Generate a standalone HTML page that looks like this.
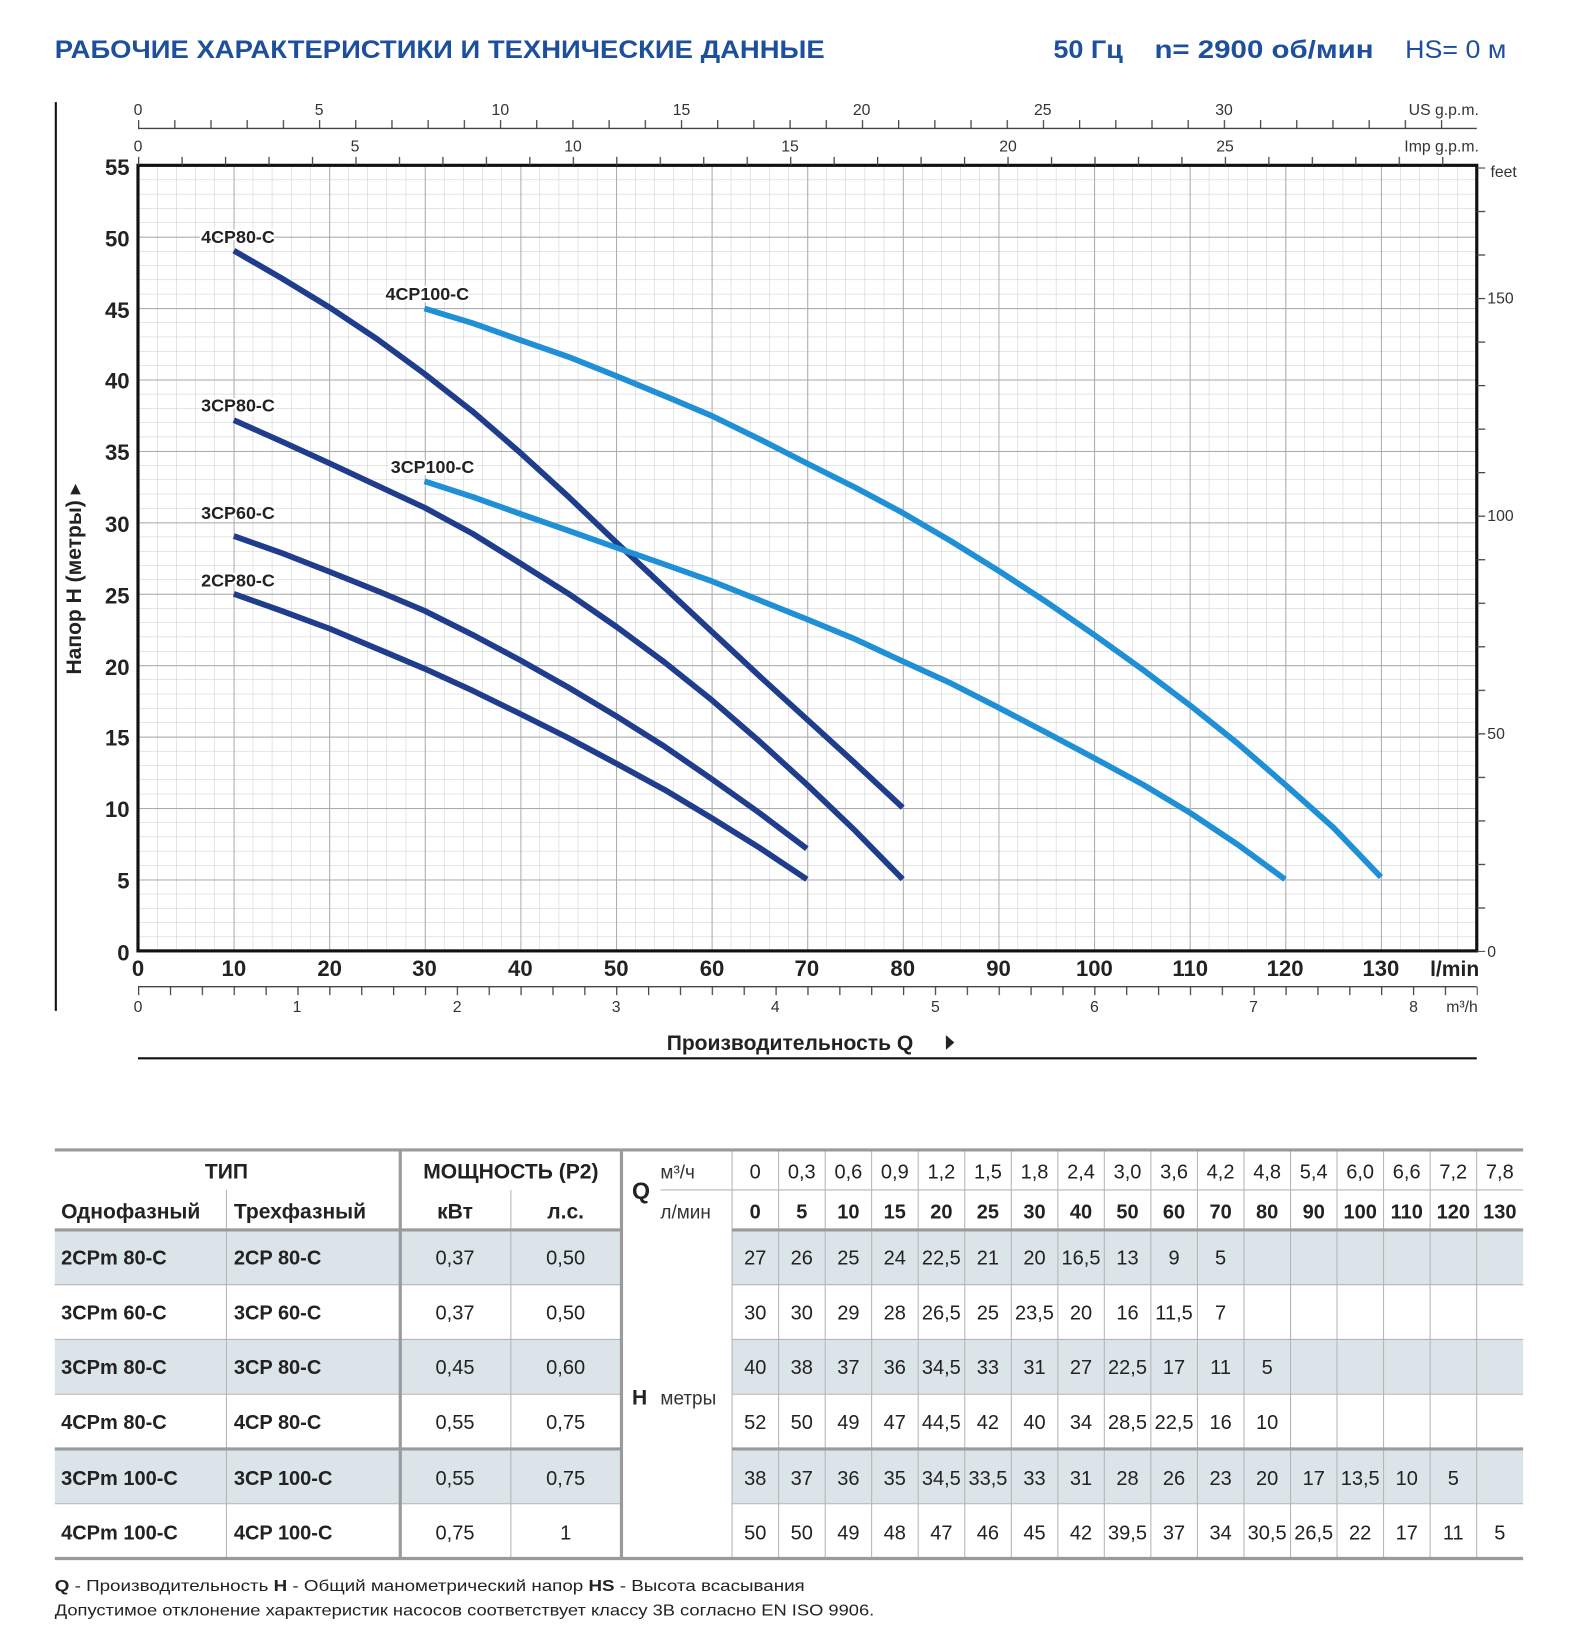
<!DOCTYPE html>
<html><head><meta charset="utf-8"><style>
html,body{margin:0;padding:0;background:#fff}
svg{display:block}
text{font-family:"Liberation Sans","DejaVu Sans",sans-serif}
.b{font-weight:bold}
</style></head><body>
<svg width="1580" height="1648" viewBox="0 0 1500 1565" preserveAspectRatio="none" xmlns="http://www.w3.org/2000/svg">
<defs>
<pattern id="minor" patternUnits="userSpaceOnUse" x="131" y="903" width="18.154" height="13.564">
<path d="M0 0V13.564M0 0H18.154" stroke="#c9c9c9" stroke-width="0.9" fill="none"/></pattern>
<pattern id="major" patternUnits="userSpaceOnUse" x="131" y="903" width="90.77" height="67.82">
<path d="M0 0V67.82M0 0H90.77" stroke="#a9a9a9" stroke-width="1.8" fill="none"/></pattern>
<pattern id="tUS" patternUnits="userSpaceOnUse" x="131" y="0" width="34.36" height="10"><path d="M0.6 0V10" stroke="#444" stroke-width="1.2"/></pattern>
<pattern id="tIMP" patternUnits="userSpaceOnUse" x="131" y="0" width="41.27" height="10"><path d="M0.6 0V10" stroke="#444" stroke-width="1.2"/></pattern>
<pattern id="tM3" patternUnits="userSpaceOnUse" x="131" y="0" width="30.26" height="10"><path d="M0.6 0V10" stroke="#444" stroke-width="1.2"/></pattern>
<pattern id="tFT" patternUnits="userSpaceOnUse" x="0" y="903" width="10" height="41.34"><path d="M0 0.6H10" stroke="#444" stroke-width="1.2"/></pattern>
</defs>

<text x="52" y="55" class="b" font-size="24" fill="#1d4f9c" textLength="731" lengthAdjust="spacingAndGlyphs">РАБОЧИЕ ХАРАКТЕРИСТИКИ И ТЕХНИЧЕСКИЕ ДАННЫЕ</text>
<text x="1000" y="55" class="b" font-size="24" fill="#1d4f9c" textLength="66" lengthAdjust="spacingAndGlyphs">50 Гц</text>
<text x="1096" y="55" class="b" font-size="24" fill="#1d4f9c" textLength="208" lengthAdjust="spacingAndGlyphs">n= 2900 об/мин</text>
<text x="1334" y="55" font-size="24" fill="#1d4f9c" textLength="96" lengthAdjust="spacingAndGlyphs">HS= 0 м</text>

<line x1="53" y1="97" x2="53" y2="960" stroke="#111" stroke-width="2"/>

<rect x="131" y="157" width="1271" height="746" fill="url(#minor)"/>
<rect x="131" y="157" width="1271" height="746" fill="url(#major)"/>
<rect x="131" y="157" width="1271" height="746" fill="none" stroke="#111" stroke-width="3"/>

<line x1="131" y1="122" x2="1402" y2="122" stroke="#444" stroke-width="1.3"/>
<rect x="131" y="114" width="1240" height="8" fill="url(#tUS)"/>
<g font-size="15" fill="#333" text-anchor="middle">
<text x="131" y="109">0</text><text x="303" y="109">5</text><text x="475" y="109">10</text><text x="647" y="109">15</text><text x="818" y="109">20</text><text x="990" y="109">25</text><text x="1162" y="109">30</text>
<text x="131" y="144">0</text><text x="337" y="144">5</text><text x="544" y="144">10</text><text x="750" y="144">15</text><text x="957" y="144">20</text><text x="1163" y="144">25</text>
</g>
<text x="1404" y="109" font-size="15" fill="#333" text-anchor="end">US g.p.m.</text>
<text x="1404" y="144" font-size="15" fill="#333" text-anchor="end">Imp g.p.m.</text>
<rect x="131" y="149" width="1245" height="8" fill="url(#tIMP)"/>

<rect x="1402" y="159" width="8" height="745" fill="url(#tFT)"/>
<g font-size="15" fill="#333">
<text x="1415" y="168">feet</text><text x="1412" y="288">150</text><text x="1412" y="495">100</text><text x="1412" y="702">50</text><text x="1412" y="909">0</text>
</g>

<g class="b" font-size="21" fill="#222" text-anchor="end">
<text x="123" y="166">55</text><text x="123" y="234">50</text><text x="123" y="302">45</text><text x="123" y="369">40</text><text x="123" y="437">35</text><text x="123" y="505">30</text><text x="123" y="573">25</text><text x="123" y="641">20</text><text x="123" y="708">15</text><text x="123" y="776">10</text><text x="123" y="844">5</text><text x="123" y="912">0</text>
</g>
<text transform="translate(77,550) rotate(-90)" class="b" font-size="20" fill="#222" text-anchor="middle">Напор H (метры) ▸</text>

<g class="b" font-size="21" fill="#222" text-anchor="middle">
<text x="131" y="927">0</text><text x="222" y="927">10</text><text x="313" y="927">20</text><text x="403" y="927">30</text><text x="494" y="927">40</text><text x="585" y="927">50</text><text x="676" y="927">60</text><text x="766" y="927">70</text><text x="857" y="927">80</text><text x="948" y="927">90</text><text x="1039" y="927">100</text><text x="1130" y="927">110</text><text x="1220" y="927">120</text><text x="1311" y="927">130</text>
</g>
<text x="1381" y="927" class="b" font-size="20" fill="#222" text-anchor="middle">l/min</text>
<line x1="131" y1="937" x2="1402" y2="937" stroke="#444" stroke-width="1.3"/>
<rect x="131" y="937" width="1272" height="8" fill="url(#tM3)"/>
<g font-size="15" fill="#333" text-anchor="middle">
<text x="131" y="961">0</text><text x="282" y="961">1</text><text x="434" y="961">2</text><text x="585" y="961">3</text><text x="736" y="961">4</text><text x="888" y="961">5</text><text x="1039" y="961">6</text><text x="1190" y="961">7</text><text x="1342" y="961">8</text><text x="1388" y="961">m³/h</text>
</g>
<text x="750" y="997" class="b" font-size="20" fill="#222" text-anchor="middle">Производительность Q</text>
<path d="M898 983 L906 990 L898 997Z" fill="#222"/>
<line x1="131" y1="1005" x2="1402" y2="1005" stroke="#111" stroke-width="2"/>

<g fill="none" stroke-width="5.5" stroke-linejoin="round" stroke-linecap="butt">
<polyline stroke="#1f3d8c" points="222,238 267,264 313,292 358,322 403,355 449,391 494,430 540,472 585,515 631,558 676,600 721,642 766,683 812,725 857,767"/>
<polyline stroke="#1f3d8c" points="222,399 267,419 313,440 358,461 403,482 449,507 494,535 540,564 585,595 631,629 676,665 721,704 766,745 812,789 857,835"/>
<polyline stroke="#1f3d8c" points="222,509 267,525 313,543 358,561 403,580 449,603 494,627 540,653 585,680 631,709 676,740 721,772 766,806"/>
<polyline stroke="#1f3d8c" points="222,564 267,580 313,597 358,616 403,635 449,656 494,678 540,701 585,725 631,750 676,777 721,805 766,835"/>
<polyline stroke="#1f8fd6" points="403,457 449,472 494,488 540,504 585,520 631,536 676,552 721,570 766,588 812,607 857,628 903,649 948,672 994,696 1039,720 1085,745 1130,772 1175,802 1220,835"/>
<polyline stroke="#1f8fd6" points="403,293 449,307 494,323 540,339 585,357 631,376 676,395 721,417 766,440 812,463 857,487 903,514 948,542 994,572 1039,603 1085,636 1130,670 1175,706 1220,745 1266,786 1311,833"/>
</g>
<g class="b" font-size="17" fill="#222" stroke="#fff" stroke-width="4" paint-order="stroke">
<text x="191" y="231">4CP80-C</text>
<text x="366" y="285">4CP100-C</text>
<text x="191" y="391">3CP80-C</text>
<text x="371" y="449">3CP100-C</text>
<text x="191" y="493">3CP60-C</text>
<text x="191" y="557">2CP80-C</text>
</g>

<g fill="#dbe4e9">
<rect x="52" y="1168" width="538" height="52"/><rect x="695" y="1168" width="751" height="52"/>
<rect x="52" y="1272" width="538" height="52"/><rect x="695" y="1272" width="751" height="52"/>
<rect x="52" y="1376" width="538" height="52"/><rect x="695" y="1376" width="751" height="52"/>
</g>
<g stroke="#b5b5b5" stroke-width="1">
<line x1="627" y1="1130" x2="1446" y2="1130"/>
<line x1="52" y1="1220" x2="590" y2="1220"/><line x1="695" y1="1220" x2="1446" y2="1220"/>
<line x1="52" y1="1272" x2="590" y2="1272"/><line x1="695" y1="1272" x2="1446" y2="1272"/>
<line x1="52" y1="1324" x2="590" y2="1324"/><line x1="695" y1="1324" x2="1446" y2="1324"/>
<line x1="52" y1="1428" x2="590" y2="1428"/><line x1="695" y1="1428" x2="1446" y2="1428"/>
<line x1="215" y1="1130" x2="215" y2="1480"/><line x1="485" y1="1130" x2="485" y2="1480"/>
<line x1="695" y1="1092" x2="695" y2="1480"/><line x1="739.2" y1="1092" x2="739.2" y2="1480"/><line x1="783.4" y1="1092" x2="783.4" y2="1480"/><line x1="827.5" y1="1092" x2="827.5" y2="1480"/><line x1="871.7" y1="1092" x2="871.7" y2="1480"/><line x1="915.9" y1="1092" x2="915.9" y2="1480"/><line x1="960.1" y1="1092" x2="960.1" y2="1480"/><line x1="1004.3" y1="1092" x2="1004.3" y2="1480"/><line x1="1048.4" y1="1092" x2="1048.4" y2="1480"/><line x1="1092.6" y1="1092" x2="1092.6" y2="1480"/><line x1="1136.8" y1="1092" x2="1136.8" y2="1480"/><line x1="1181" y1="1092" x2="1181" y2="1480"/><line x1="1225.2" y1="1092" x2="1225.2" y2="1480"/><line x1="1269.3" y1="1092" x2="1269.3" y2="1480"/><line x1="1313.5" y1="1092" x2="1313.5" y2="1480"/><line x1="1357.7" y1="1092" x2="1357.7" y2="1480"/><line x1="1401.9" y1="1092" x2="1401.9" y2="1480"/>
</g>
<g stroke="#9a9a9a" stroke-width="3">
<line x1="52" y1="1092" x2="1446" y2="1092"/>
<line x1="52" y1="1168" x2="590" y2="1168"/><line x1="695" y1="1168" x2="1446" y2="1168"/>
<line x1="52" y1="1376" x2="590" y2="1376"/><line x1="695" y1="1376" x2="1446" y2="1376"/>
<line x1="52" y1="1480" x2="1446" y2="1480"/>
<line x1="380" y1="1092" x2="380" y2="1480"/><line x1="590" y1="1092" x2="590" y2="1480"/>
</g>
<g class="b" font-size="20" fill="#222">
<text x="215" y="1119" text-anchor="middle">ТИП</text>
<text x="485" y="1119" text-anchor="middle">МОЩНОСТЬ (P2)</text>
<text x="58" y="1157">Однофазный</text><text x="222" y="1157">Трехфазный</text>
<text x="432" y="1157" text-anchor="middle">кВт</text><text x="537" y="1157" text-anchor="middle">л.с.</text>
<text x="600" y="1138" font-size="22">Q</text>
<text x="600" y="1334" font-size="20">H</text>
</g>
<g font-size="18" fill="#333">
<text x="627" y="1119">м³/ч</text><text x="627" y="1157">л/мин</text><text x="627" y="1334">метры</text>
</g>
<g font-size="19" fill="#222" text-anchor="middle">
<text y="1119"><tspan x="717">0</tspan><tspan x="761.2">0,3</tspan><tspan x="805.4">0,6</tspan><tspan x="849.5">0,9</tspan><tspan x="893.7">1,2</tspan><tspan x="937.9">1,5</tspan><tspan x="982.1">1,8</tspan><tspan x="1026.3">2,4</tspan><tspan x="1070.4">3,0</tspan><tspan x="1114.6">3,6</tspan><tspan x="1158.8">4,2</tspan><tspan x="1203">4,8</tspan><tspan x="1247.2">5,4</tspan><tspan x="1291.3">6,0</tspan><tspan x="1335.5">6,6</tspan><tspan x="1379.7">7,2</tspan><tspan x="1423.9">7,8</tspan></text>
<text y="1157" class="b"><tspan x="717">0</tspan><tspan x="761.2">5</tspan><tspan x="805.4">10</tspan><tspan x="849.5">15</tspan><tspan x="893.7">20</tspan><tspan x="937.9">25</tspan><tspan x="982.1">30</tspan><tspan x="1026.3">40</tspan><tspan x="1070.4">50</tspan><tspan x="1114.6">60</tspan><tspan x="1158.8">70</tspan><tspan x="1203">80</tspan><tspan x="1247.2">90</tspan><tspan x="1291.3">100</tspan><tspan x="1335.5">110</tspan><tspan x="1379.7">120</tspan><tspan x="1423.9">130</tspan></text>
<text y="1201"><tspan x="717">27</tspan><tspan x="761.2">26</tspan><tspan x="805.4">25</tspan><tspan x="849.5">24</tspan><tspan x="893.7">22,5</tspan><tspan x="937.9">21</tspan><tspan x="982.1">20</tspan><tspan x="1026.3">16,5</tspan><tspan x="1070.4">13</tspan><tspan x="1114.6">9</tspan><tspan x="1158.8">5</tspan></text>
<text y="1253"><tspan x="717">30</tspan><tspan x="761.2">30</tspan><tspan x="805.4">29</tspan><tspan x="849.5">28</tspan><tspan x="893.7">26,5</tspan><tspan x="937.9">25</tspan><tspan x="982.1">23,5</tspan><tspan x="1026.3">20</tspan><tspan x="1070.4">16</tspan><tspan x="1114.6">11,5</tspan><tspan x="1158.8">7</tspan></text>
<text y="1305"><tspan x="717">40</tspan><tspan x="761.2">38</tspan><tspan x="805.4">37</tspan><tspan x="849.5">36</tspan><tspan x="893.7">34,5</tspan><tspan x="937.9">33</tspan><tspan x="982.1">31</tspan><tspan x="1026.3">27</tspan><tspan x="1070.4">22,5</tspan><tspan x="1114.6">17</tspan><tspan x="1158.8">11</tspan><tspan x="1203">5</tspan></text>
<text y="1357"><tspan x="717">52</tspan><tspan x="761.2">50</tspan><tspan x="805.4">49</tspan><tspan x="849.5">47</tspan><tspan x="893.7">44,5</tspan><tspan x="937.9">42</tspan><tspan x="982.1">40</tspan><tspan x="1026.3">34</tspan><tspan x="1070.4">28,5</tspan><tspan x="1114.6">22,5</tspan><tspan x="1158.8">16</tspan><tspan x="1203">10</tspan></text>
<text y="1410"><tspan x="717">38</tspan><tspan x="761.2">37</tspan><tspan x="805.4">36</tspan><tspan x="849.5">35</tspan><tspan x="893.7">34,5</tspan><tspan x="937.9">33,5</tspan><tspan x="982.1">33</tspan><tspan x="1026.3">31</tspan><tspan x="1070.4">28</tspan><tspan x="1114.6">26</tspan><tspan x="1158.8">23</tspan><tspan x="1203">20</tspan><tspan x="1247.2">17</tspan><tspan x="1291.3">13,5</tspan><tspan x="1335.5">10</tspan><tspan x="1379.7">5</tspan></text>
<text y="1462"><tspan x="717">50</tspan><tspan x="761.2">50</tspan><tspan x="805.4">49</tspan><tspan x="849.5">48</tspan><tspan x="893.7">47</tspan><tspan x="937.9">46</tspan><tspan x="982.1">45</tspan><tspan x="1026.3">42</tspan><tspan x="1070.4">39,5</tspan><tspan x="1114.6">37</tspan><tspan x="1158.8">34</tspan><tspan x="1203">30,5</tspan><tspan x="1247.2">26,5</tspan><tspan x="1291.3">22</tspan><tspan x="1335.5">17</tspan><tspan x="1379.7">11</tspan><tspan x="1423.9">5</tspan></text>
<text y="1201"><tspan x="432">0,37</tspan><tspan x="537">0,50</tspan></text>
<text y="1253"><tspan x="432">0,37</tspan><tspan x="537">0,50</tspan></text>
<text y="1305"><tspan x="432">0,45</tspan><tspan x="537">0,60</tspan></text>
<text y="1357"><tspan x="432">0,55</tspan><tspan x="537">0,75</tspan></text>
<text y="1410"><tspan x="432">0,55</tspan><tspan x="537">0,75</tspan></text>
<text y="1462"><tspan x="432">0,75</tspan><tspan x="537">1</tspan></text>
</g>
<g class="b" font-size="19" fill="#222">
<text y="1201"><tspan x="58">2CPm 80-C</tspan><tspan x="222">2CP 80-C</tspan></text>
<text y="1253"><tspan x="58">3CPm 60-C</tspan><tspan x="222">3CP 60-C</tspan></text>
<text y="1305"><tspan x="58">3CPm 80-C</tspan><tspan x="222">3CP 80-C</tspan></text>
<text y="1357"><tspan x="58">4CPm 80-C</tspan><tspan x="222">4CP 80-C</tspan></text>
<text y="1410"><tspan x="58">3CPm 100-C</tspan><tspan x="222">3CP 100-C</tspan></text>
<text y="1462"><tspan x="58">4CPm 100-C</tspan><tspan x="222">4CP 100-C</tspan></text>
</g>
<text x="52" y="1511" font-size="15" fill="#222" textLength="712" lengthAdjust="spacingAndGlyphs"><tspan class="b">Q</tspan> - Производительность  <tspan class="b">H</tspan> - Общий манометрический напор  <tspan class="b">HS</tspan> - Высота всасывания</text>
<text x="52" y="1534" font-size="15" fill="#222" textLength="778" lengthAdjust="spacingAndGlyphs">Допустимое отклонение характеристик насосов соответствует классу 3В согласно EN ISO 9906.</text>
</svg>
</body></html>
